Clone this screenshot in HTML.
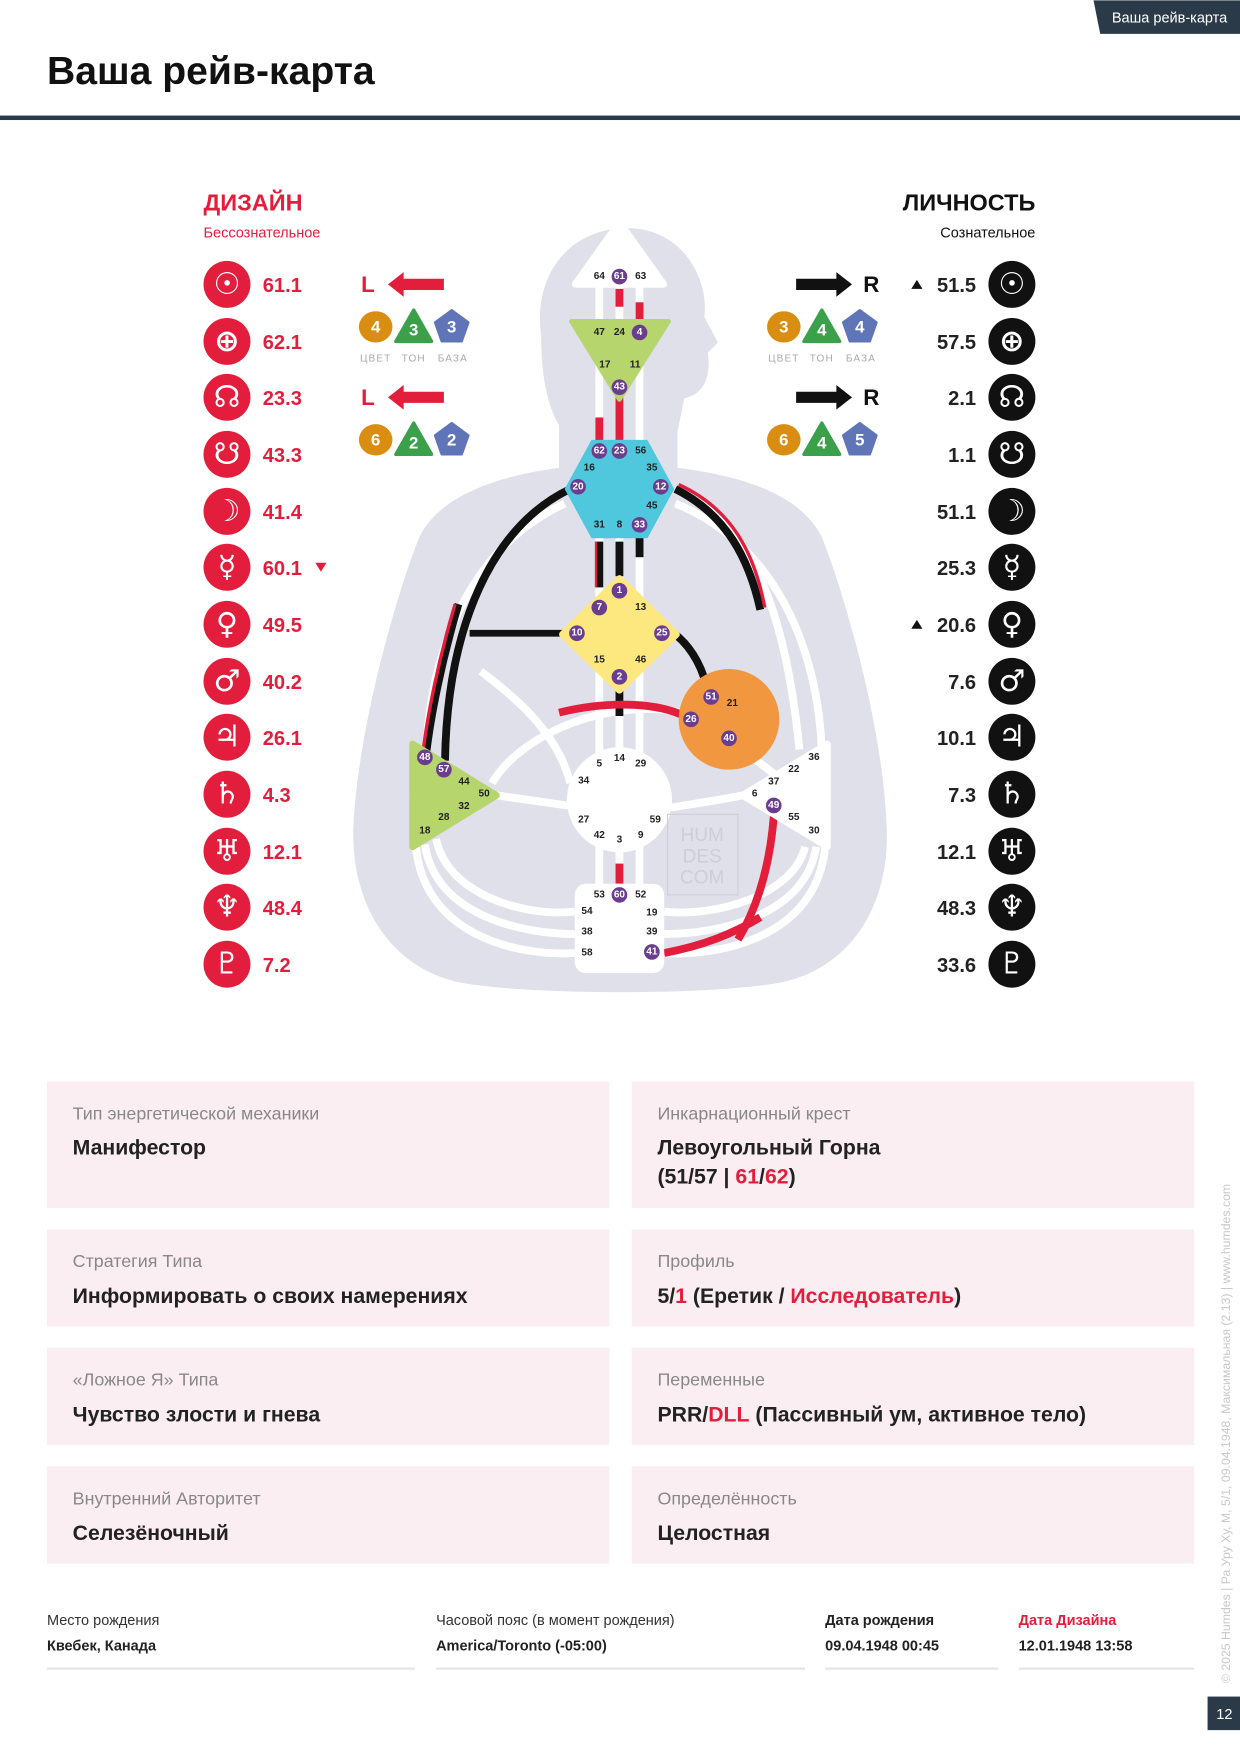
<!DOCTYPE html>
<html><head><meta charset="utf-8"><style>
html,body{margin:0;padding:0;background:#fff}
svg{display:block}
text{font-family:"Liberation Sans","DejaVu Sans",sans-serif}
.sym{font-family:"DejaVu Sans",sans-serif;fill:#fff;font-size:27px;font-weight:bold;text-anchor:middle;dominant-baseline:central}
.dn{fill:#e31e3c;font-size:18px;font-weight:bold}
.pn{fill:#222;font-size:18px;font-weight:bold;text-anchor:end}
.g{font-size:9px;font-weight:bold;fill:#222;text-anchor:middle;dominant-baseline:central}
.gw{font-size:9px;font-weight:bold;fill:#fff;text-anchor:middle;dominant-baseline:central}
.cl{font-size:16px;fill:#888}
.cv{font-size:19px;font-weight:bold;fill:#222}
.fl{font-size:13px;fill:#333}
.fv{font-size:13px;font-weight:bold;fill:#222}
.sm{font-size:9px;fill:#aaa;text-anchor:middle;letter-spacing:1px}
.nb{font-size:15px;font-weight:bold;fill:#fff;text-anchor:middle;dominant-baseline:central}
</style></head><body>
<svg width="1240" height="1754" viewBox="0 0 1109 1568" xmlns="http://www.w3.org/2000/svg">
<polygon points="978,0 1109,0 1109,30 984,30" fill="#2b3a48"/>
<text x="1046" y="20" font-size="13" fill="#fff" text-anchor="middle">Ваша рейв-карта</text>
<text x="42" y="75" font-size="35" font-weight="bold" fill="#111">Ваша рейв-карта</text>
<rect x="0" y="103" width="1109" height="4" fill="#2b3a48"/>

<text x="182" y="188" font-size="21" font-weight="bold" fill="#e31e3c">ДИЗАЙН</text>
<text x="182" y="212" font-size="13" fill="#e31e3c">Бессознательное</text>
<text x="926" y="188" font-size="21" font-weight="bold" fill="#111" text-anchor="end">ЛИЧНОСТЬ</text>
<text x="926" y="212" font-size="13" fill="#111" text-anchor="end">Сознательное</text>

<path d="M484,300 C476,240 515,200 568,204 C612,208 634,250 630,283 L642,306 L633,315 C636,336 630,352 612,356 L606,385 L606,418 C660,425 715,440 735,480 C755,530 790,650 793,740 C796,810 760,865 700,878 C640,890 470,890 410,878 C350,865 314,810 316,740 C320,650 355,530 375,480 C395,440 450,425 500,418 L500,380 C488,360 484,330 484,300 Z" fill="#dfe0ea"/>

<g stroke="#fff" stroke-width="7" fill="none">
<line x1="536" y1="255" x2="536" y2="800"/>
<line x1="554" y1="255" x2="554" y2="800"/>
<line x1="572" y1="255" x2="572" y2="800"/>
<path d="M510,437 C440,470 400,560 398,680"/>
<path d="M505,450 C420,490 385,580 381,675"/>
<path d="M604,437 C660,460 700,520 715,670"/>
<path d="M604,450 C680,480 730,560 735,670"/>
<path d="M604,567 C620,580 630,600 633,620"/>
<path d="M430,600 C470,630 500,660 510,700"/>
<path d="M440,700 C470,650 560,620 620,640"/>
<path d="M444,711 C480,716 505,720 508,720"/>
<path d="M664,711 C640,716 610,720 600,722"/>
<path d="M390,750 C400,800 470,820 514,815"/>
<path d="M380,755 C390,820 470,835 514,835"/>
<path d="M372,757 C380,840 470,855 514,852"/>
<path d="M720,757 C710,800 640,820 594,815"/>
<path d="M730,757 C720,820 640,835 594,835"/>
<path d="M738,757 C730,840 640,855 594,852"/>
<path d="M655,665 C680,680 700,700 705,700"/>
</g>

<g fill="none" stroke-width="7">
<line x1="554" y1="258" x2="554" y2="274" stroke="#e31e3c"/>
<line x1="572" y1="270" x2="572" y2="287" stroke="#e31e3c"/>
<line x1="554" y1="355" x2="554" y2="395" stroke="#e31e3c"/>
<line x1="536" y1="373" x2="536" y2="394" stroke="#e31e3c"/>
<line x1="536" y1="484" x2="536" y2="525" stroke="#111"/>
<line x1="533" y1="484" x2="533" y2="525" stroke="#e31e3c" stroke-width="2"/>
<line x1="554" y1="484" x2="554" y2="515" stroke="#111"/>
<line x1="572" y1="480" x2="572" y2="498" stroke="#111"/>
<line x1="554" y1="615" x2="554" y2="640" stroke="#111"/>
<line x1="554" y1="772" x2="554" y2="790" stroke="#e31e3c"/>
<path d="M510,437 C440,470 400,560 398,680" stroke="#111"/>
<path d="M410,540 C395,590 385,640 381,675" stroke="#111"/>
<path d="M407,540 C392,590 382,640 378,675" stroke="#e31e3c" stroke-width="3"/>
<line x1="420" y1="566" x2="510" y2="566" stroke="#111" stroke-width="6"/>
<path d="M604,437 C650,460 670,500 680,545" stroke="#111"/>
<path d="M607,433 C655,455 675,495 684,543" stroke="#e31e3c" stroke-width="3"/>
<path d="M604,567 C620,580 630,600 633,620" stroke="#111"/>
<path d="M500,637 C540,627 585,627 612,640" stroke="#e31e3c"/>
<path d="M655,665 C665,672 670,675 675,680" stroke="#e31e3c"/>
<path d="M692,730 C688,780 675,815 660,840" stroke="#e31e3c"/>
<path d="M594,852 C630,845 655,835 680,820" stroke="#e31e3c"/>
</g>

<path d="M554,193 L596,252 Q598,257 592,257 L516,257 Q510,257 512,252 Z" fill="#fff"/>
<path d="M511,287 L598,287 L554,357 Z" fill="#b6d56c" stroke="#b6d56c" stroke-width="4" stroke-linejoin="round"/>
<polygon points="529,393 579,393 603,437 579,481 529,481 505,437" fill="#4fc7dc"/>
<polygon points="554,517 605,567 554,617 503,567" fill="#fde77f" stroke="#fde77f" stroke-width="6" stroke-linejoin="round"/>
<circle cx="652" cy="643" r="45" fill="#f0973f"/>
<polygon points="369,665 444,711 369,757" fill="#b6d56c" stroke="#b6d56c" stroke-width="6" stroke-linejoin="round"/>
<polygon points="740,665 664,711 740,757" fill="#fff" stroke="#fff" stroke-width="6" stroke-linejoin="round"/>
<circle cx="554" cy="715" r="47" fill="#fff"/>
<rect x="514" y="790" width="80" height="80" rx="10" fill="#fff"/>
<rect x="597" y="728" width="63" height="72" fill="none" stroke="#ccced8"/>
<text x="628" y="752" font-size="17" fill="#ccced8" text-anchor="middle">HUM</text>
<text x="628" y="771" font-size="17" fill="#ccced8" text-anchor="middle">DES</text>
<text x="628" y="790" font-size="17" fill="#ccced8" text-anchor="middle">COM</text>

<g fill="#6a3d8f">
<circle cx="554" cy="247" r="7"/><circle cx="572" cy="297" r="7"/><circle cx="554" cy="346" r="7"/>
<circle cx="536" cy="403" r="7"/><circle cx="554" cy="403" r="7"/><circle cx="517" cy="435" r="7"/><circle cx="591" cy="435" r="7"/><circle cx="572" cy="469" r="7"/>
<circle cx="554" cy="528" r="7"/><circle cx="536" cy="543" r="7"/><circle cx="516" cy="566" r="7"/><circle cx="592" cy="566" r="7"/><circle cx="554" cy="605" r="7"/>
<circle cx="636" cy="623" r="7"/><circle cx="618" cy="643" r="7"/><circle cx="652" cy="660" r="7"/>
<circle cx="380" cy="677" r="7"/><circle cx="397" cy="688" r="7"/><circle cx="692" cy="720" r="7"/>
<circle cx="554" cy="800" r="7"/><circle cx="583" cy="851" r="7"/>
</g>
<text class="gw" x="554" y="247">61</text><text class="gw" x="572" y="297">4</text><text class="gw" x="554" y="346">43</text>
<text class="gw" x="536" y="403">62</text><text class="gw" x="554" y="403">23</text><text class="gw" x="517" y="435">20</text><text class="gw" x="591" y="435">12</text><text class="gw" x="572" y="469">33</text>
<text class="gw" x="554" y="528">1</text><text class="gw" x="536" y="543">7</text><text class="gw" x="516" y="566">10</text><text class="gw" x="592" y="566">25</text><text class="gw" x="554" y="605">2</text>
<text class="gw" x="636" y="623">51</text><text class="gw" x="618" y="643">26</text><text class="gw" x="652" y="660">40</text>
<text class="gw" x="380" y="677">48</text><text class="gw" x="397" y="688">57</text><text class="gw" x="692" y="720">49</text>
<text class="gw" x="554" y="800">60</text><text class="gw" x="583" y="851">41</text>
<text class="g" x="536" y="247">64</text><text class="g" x="573" y="247">63</text>
<text class="g" x="536" y="297">47</text><text class="g" x="554" y="297">24</text><text class="g" x="541" y="326">17</text><text class="g" x="568" y="326">11</text>
<text class="g" x="573" y="403">56</text><text class="g" x="527" y="418">16</text><text class="g" x="583" y="418">35</text><text class="g" x="583" y="452">45</text><text class="g" x="536" y="469">31</text><text class="g" x="554" y="469">8</text>
<text class="g" x="573" y="543">13</text><text class="g" x="536" y="590">15</text><text class="g" x="573" y="590">46</text>
<text class="g" x="655" y="629">21</text>
<text class="g" x="415" y="699">44</text><text class="g" x="433" y="710">50</text><text class="g" x="415" y="721">32</text><text class="g" x="397" y="731">28</text><text class="g" x="380" y="743">18</text>
<text class="g" x="728" y="677">36</text><text class="g" x="710" y="688">22</text><text class="g" x="692" y="699">37</text><text class="g" x="675" y="710">6</text><text class="g" x="710" y="731">55</text><text class="g" x="728" y="743">30</text>
<text class="g" x="536" y="683">5</text><text class="g" x="554" y="678">14</text><text class="g" x="573" y="683">29</text><text class="g" x="522" y="698">34</text><text class="g" x="522" y="733">27</text><text class="g" x="586" y="733">59</text><text class="g" x="536" y="747">42</text><text class="g" x="554" y="751">3</text><text class="g" x="573" y="747">9</text>
<text class="g" x="536" y="800">53</text><text class="g" x="573" y="800">52</text><text class="g" x="525" y="815">54</text><text class="g" x="583" y="816">19</text><text class="g" x="525" y="833">38</text><text class="g" x="583" y="833">39</text><text class="g" x="525" y="852">58</text>

<text x="323" y="261" font-size="20" font-weight="bold" fill="#e31e3c">L</text>
<polygon points="347,254 361,243 361,249 397,249 397,259 361,259 361,265" fill="#e31e3c"/>
<text x="323" y="362" font-size="20" font-weight="bold" fill="#e31e3c">L</text>
<polygon points="347,355 361,344 361,350 397,350 397,360 361,360 361,366" fill="#e31e3c"/>
<text x="772" y="261" font-size="20" font-weight="bold" fill="#111">R</text>
<polygon points="762,254 748,243 748,249 712,249 712,259 748,259 748,265" fill="#111"/>
<text x="772" y="362" font-size="20" font-weight="bold" fill="#111">R</text>
<polygon points="762,355 748,344 748,350 712,350 712,360 748,360 748,366" fill="#111"/>
<g>
<ellipse cx="336" cy="292" rx="15" ry="14" fill="#d98e12"/><text class="nb" x="336" y="292">4</text>
<polygon points="370,277 386,305 354,305" fill="#3aa04a" stroke="#3aa04a" stroke-width="3" stroke-linejoin="round"/><text class="nb" x="370" y="295">3</text>
<polygon points="404,277 419,288 413,305 395,305 389,288" fill="#5f75b8" stroke="#5f75b8" stroke-width="2" stroke-linejoin="round"/><text class="nb" x="404" y="292">3</text>
<text class="sm" x="336" y="323">ЦВЕТ</text><text class="sm" x="370" y="323">ТОН</text><text class="sm" x="405" y="323">БАЗА</text>
<ellipse cx="336" cy="393" rx="15" ry="14" fill="#d98e12"/><text class="nb" x="336" y="393">6</text>
<polygon points="370,378 386,406 354,406" fill="#3aa04a" stroke="#3aa04a" stroke-width="3" stroke-linejoin="round"/><text class="nb" x="370" y="396">2</text>
<polygon points="404,378 419,389 413,406 395,406 389,389" fill="#5f75b8" stroke="#5f75b8" stroke-width="2" stroke-linejoin="round"/><text class="nb" x="404" y="393">2</text>
<ellipse cx="701" cy="292" rx="15" ry="14" fill="#d98e12"/><text class="nb" x="701" y="292">3</text>
<polygon points="735,277 751,305 719,305" fill="#3aa04a" stroke="#3aa04a" stroke-width="3" stroke-linejoin="round"/><text class="nb" x="735" y="295">4</text>
<polygon points="769,277 784,288 778,305 760,305 754,288" fill="#5f75b8" stroke="#5f75b8" stroke-width="2" stroke-linejoin="round"/><text class="nb" x="769" y="292">4</text>
<text class="sm" x="701" y="323">ЦВЕТ</text><text class="sm" x="735" y="323">ТОН</text><text class="sm" x="770" y="323">БАЗА</text>
<ellipse cx="701" cy="393" rx="15" ry="14" fill="#d98e12"/><text class="nb" x="701" y="393">6</text>
<polygon points="735,378 751,406 719,406" fill="#3aa04a" stroke="#3aa04a" stroke-width="3" stroke-linejoin="round"/><text class="nb" x="735" y="396">4</text>
<polygon points="769,378 784,389 778,406 760,406 754,389" fill="#5f75b8" stroke="#5f75b8" stroke-width="2" stroke-linejoin="round"/><text class="nb" x="769" y="393">5</text>
</g>

<g fill="#e31e3c">
<circle cx="203" cy="254" r="21"/><circle cx="203" cy="305" r="21"/><circle cx="203" cy="355" r="21"/><circle cx="203" cy="406" r="21"/><circle cx="203" cy="457" r="21"/><circle cx="203" cy="507" r="21"/><circle cx="203" cy="558" r="21"/><circle cx="203" cy="609" r="21"/><circle cx="203" cy="659" r="21"/><circle cx="203" cy="710" r="21"/><circle cx="203" cy="761" r="21"/><circle cx="203" cy="811" r="21"/><circle cx="203" cy="862" r="21"/>
</g>
<g fill="#111">
<circle cx="905" cy="254" r="21"/><circle cx="905" cy="305" r="21"/><circle cx="905" cy="355" r="21"/><circle cx="905" cy="406" r="21"/><circle cx="905" cy="457" r="21"/><circle cx="905" cy="507" r="21"/><circle cx="905" cy="558" r="21"/><circle cx="905" cy="609" r="21"/><circle cx="905" cy="659" r="21"/><circle cx="905" cy="710" r="21"/><circle cx="905" cy="761" r="21"/><circle cx="905" cy="811" r="21"/><circle cx="905" cy="862" r="21"/>
</g>
<g>
<text class="sym" x="203" y="254">☉</text><text class="sym" x="203" y="305">⊕</text><text class="sym" x="203" y="355">☊</text><text class="sym" x="203" y="406">☋</text><text class="sym" x="203" y="457">☽</text><text class="sym" x="203" y="507">☿</text><text class="sym" x="203" y="558">♀</text><text class="sym" x="203" y="609">♂</text><text class="sym" x="203" y="659">♃</text><text class="sym" x="203" y="710">♄</text><text class="sym" x="203" y="761">♅</text><text class="sym" x="203" y="811">♆</text><text class="sym" x="203" y="862">♇</text>
<text class="sym" x="905" y="254">☉</text><text class="sym" x="905" y="305">⊕</text><text class="sym" x="905" y="355">☊</text><text class="sym" x="905" y="406">☋</text><text class="sym" x="905" y="457">☽</text><text class="sym" x="905" y="507">☿</text><text class="sym" x="905" y="558">♀</text><text class="sym" x="905" y="609">♂</text><text class="sym" x="905" y="659">♃</text><text class="sym" x="905" y="710">♄</text><text class="sym" x="905" y="761">♅</text><text class="sym" x="905" y="811">♆</text><text class="sym" x="905" y="862">♇</text>
</g>
<g>
<text class="dn" x="235" y="261">61.1</text><text class="dn" x="235" y="312">62.1</text><text class="dn" x="235" y="362">23.3</text><text class="dn" x="235" y="413">43.3</text><text class="dn" x="235" y="464">41.4</text><text class="dn" x="235" y="514">60.1</text><text class="dn" x="235" y="565">49.5</text><text class="dn" x="235" y="616">40.2</text><text class="dn" x="235" y="666">26.1</text><text class="dn" x="235" y="717">4.3</text><text class="dn" x="235" y="768">12.1</text><text class="dn" x="235" y="818">48.4</text><text class="dn" x="235" y="869">7.2</text>
<polygon points="282,503 292,503 287,511" fill="#e31e3c"/>
<text class="pn" x="873" y="261">51.5</text><text class="pn" x="873" y="312">57.5</text><text class="pn" x="873" y="362">2.1</text><text class="pn" x="873" y="413">1.1</text><text class="pn" x="873" y="464">51.1</text><text class="pn" x="873" y="514">25.3</text><text class="pn" x="873" y="565">20.6</text><text class="pn" x="873" y="616">7.6</text><text class="pn" x="873" y="666">10.1</text><text class="pn" x="873" y="717">7.3</text><text class="pn" x="873" y="768">12.1</text><text class="pn" x="873" y="818">48.3</text><text class="pn" x="873" y="869">33.6</text>
<polygon points="815,258 825,258 820,250" fill="#111"/><polygon points="815,562 825,562 820,554" fill="#111"/>
</g>

<g fill="#fbeef2">
<rect x="42" y="967" width="503" height="113"/><rect x="565" y="967" width="503" height="113"/>
<rect x="42" y="1099" width="503" height="87"/><rect x="565" y="1099" width="503" height="87"/>
<rect x="42" y="1205" width="503" height="87"/><rect x="565" y="1205" width="503" height="87"/>
<rect x="42" y="1311" width="503" height="87"/><rect x="565" y="1311" width="503" height="87"/>
</g>
<text class="cl" x="65" y="1001">Тип энергетической механики</text>
<text class="cv" x="65" y="1032">Манифестор</text>
<text class="cl" x="588" y="1001">Инкарнационный крест</text>
<text class="cv" x="588" y="1032">Левоугольный Горна</text>
<text class="cv" x="588" y="1058">(51/57 | <tspan fill="#e31e3c">61</tspan>/<tspan fill="#e31e3c">62</tspan>)</text>
<text class="cl" x="65" y="1133">Стратегия Типа</text>
<text class="cv" x="65" y="1165">Информировать о своих намерениях</text>
<text class="cl" x="588" y="1133">Профиль</text>
<text class="cv" x="588" y="1165">5/<tspan fill="#e31e3c">1</tspan> (Еретик / <tspan fill="#e31e3c">Исследователь</tspan>)</text>
<text class="cl" x="65" y="1239">«Ложное Я» Типа</text>
<text class="cv" x="65" y="1271">Чувство злости и гнева</text>
<text class="cl" x="588" y="1239">Переменные</text>
<text class="cv" x="588" y="1271">PRR/<tspan fill="#e31e3c">DLL</tspan> (Пассивный ум, активное тело)</text>
<text class="cl" x="65" y="1345">Внутренний Авторитет</text>
<text class="cv" x="65" y="1377">Селезёночный</text>
<text class="cl" x="588" y="1345">Определённость</text>
<text class="cv" x="588" y="1377">Целостная</text>

<text class="fl" x="42" y="1453">Место рождения</text><text class="fv" x="42" y="1476">Квебек, Канада</text>
<text class="fl" x="390" y="1453">Часовой пояс (в момент рождения)</text><text class="fv" x="390" y="1476">America/Toronto (-05:00)</text>
<text class="fv" x="738" y="1453">Дата рождения</text><text class="fv" x="738" y="1476">09.04.1948 00:45</text>
<text class="fv" x="911" y="1453" style="fill:#e31e3c">Дата Дизайна</text><text class="fv" x="911" y="1476">12.01.1948 13:58</text>
<g fill="#e6e6e6"><rect x="42" y="1491" width="329" height="2"/><rect x="390" y="1491" width="330" height="2"/><rect x="738" y="1491" width="155" height="2"/><rect x="911" y="1491" width="157" height="2"/></g>
<text x="1100" y="1505" font-size="11" fill="#c8c8c8" transform="rotate(-90 1100 1505)">© 2025 Humdes | Ра Уру Ху, М, 5/1, 09.04.1948, Максимальная (2.13) | www.humdes.com</text>
<rect x="1080" y="1517" width="29" height="30" fill="#2b3a48"/>
<text x="1095" y="1537" font-size="13" fill="#fff" text-anchor="middle">12</text>
</svg>
</body></html>
